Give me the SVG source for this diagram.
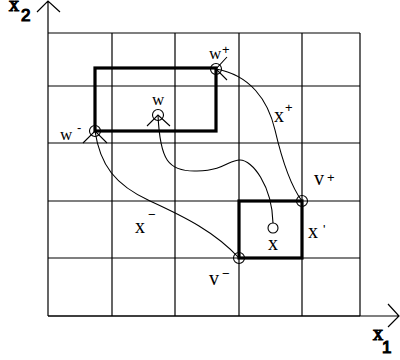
<svg xmlns="http://www.w3.org/2000/svg" width="400" height="360" viewBox="0 0 400 360">
<defs>
<style>
.grid{stroke:#000;stroke-width:1.2;fill:none}
.thick{stroke:#000;stroke-width:3.2;fill:none}
.curve{stroke:#000;stroke-width:1.1;fill:none}
.pt{stroke:#000;stroke-width:1.1;fill:none}
.lbl{font-family:"Liberation Serif",serif;font-size:20px;fill:#000}
.sm{font-size:17px}
.sup{font-family:"Liberation Sans",sans-serif;font-size:13px;fill:#000}
.sub{font-family:"Liberation Sans",sans-serif;font-size:17px;fill:#000}
</style>
</defs>
<rect width="400" height="360" fill="#fff"/>
<g id="grid" class="grid">
<path d="M48,33H360M48,86H360M48,143H360M48,201H360M48,258H360M48,316H360"/>
<path d="M112,33V316M175,33V316M239,33V316M302,33V316M360,33V316"/>
</g>
<g id="axes" class="grid">
<path d="M48,316V1M37,12L48,1L60,12"/>
<path d="M48,316H399M388,304L399,316L388,327"/>
<text class="lbl" x="9" y="11">x</text><text class="sub" x="21" y="21">2</text>
<text class="lbl" x="373" y="340">x</text><text class="sub" x="382" y="353">1</text>
</g>
<g id="box-w" class="thick"><rect x="95" y="68" width="121" height="63"/></g>
<g id="box-v" class="thick"><rect x="239" y="201" width="63" height="57"/></g>
<g id="connectors" class="curve">
<path d="M95,131C100,165 115,185 150,201S215,232 239,258"/>
<path d="M158,115C160,160 168,172 197,171S228,160 240,160S272,185 273,223"/>
<path d="M216,69C250,75 268,100 275,130S290,185 302,201"/>
</g>
<g id="w-minus"><circle class="pt" cx="95" cy="131" r="5.5"/><path class="pt" d="M83,143L95,131L107,143"/>
<text class="lbl sm" x="60" y="140">w</text><text class="sup" x="77" y="132">-</text></g>
<g id="w"><circle class="pt" cx="158" cy="115" r="5.5"/><path class="pt" d="M147,126L158,115L170,126"/>
<text class="lbl sm" x="152" y="105">w</text></g>
<g id="w-plus"><circle class="pt" cx="216" cy="69" r="5.5"/><path class="pt" d="M227,57L216,69L227,80"/>
<text class="lbl sm" x="209" y="59">w</text><text class="sup" x="222" y="54">+</text></g>
<g id="x-plus"><text class="lbl" x="274" y="122">x</text><text class="sup" x="285" y="112">+</text></g>
<g id="v-plus"><circle class="pt" cx="302" cy="201" r="5.5"/>
<text class="lbl" x="314" y="185">v</text><text class="sup" x="327" y="182">+</text></g>
<g id="x"><circle class="pt" cx="273" cy="228" r="5"/>
<text class="lbl" x="268" y="250">x</text></g>
<g id="x-prime"><text class="lbl" x="308" y="238">x</text><text class="sup" x="323" y="234">'</text></g>
<g id="v-minus"><circle class="pt" cx="239" cy="258" r="5.5"/>
<text class="lbl" x="209" y="285">v</text><text class="sup" x="222" y="278">−</text></g>
<g id="x-minus"><text class="lbl" x="135" y="233">x</text><text class="sup" x="148" y="219">−</text></g>
</svg>
